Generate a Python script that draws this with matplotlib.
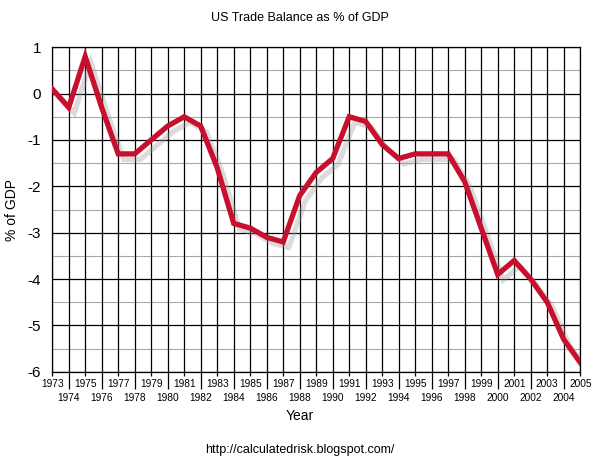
import numpy as np
import matplotlib
matplotlib.use('Agg')
import matplotlib.pyplot as plt
import matplotlib.patheffects as pe
from matplotlib.ticker import FixedLocator, FixedFormatter

plt.rcParams['font.family'] = ['Liberation Sans', 'DejaVu Sans']
plt.rcParams['axes.unicode_minus'] = False

years = list(range(1973, 2006))
balance = [0.1, -0.3, 0.8, -0.3, -1.3, -1.3, -1.0, -0.7, -0.5, -0.7,
           -1.6, -2.8, -2.9, -3.1, -3.2, -2.2, -1.7, -1.4, -0.5, -0.6,
           -1.1, -1.4, -1.3, -1.3, -1.3, -1.9, -2.9, -3.9, -3.6, -4.0,
           -4.5, -5.3, -5.8]
y_ticks = [1, 0, -1, -2, -3, -4, -5, -6]

fig = plt.figure(figsize=(6, 4.63), dpi=100)
ax = fig.add_axes([0.087, 0.197, 0.88, 0.701])

# grid: gray half steps, black integers and years
for v in np.arange(-5.5, 1, 1.0):
    ax.axhline(v, color='#aaaaaa', lw=0.8, zorder=1)
for v in y_ticks:
    ax.axhline(v, color='black', lw=0.9, zorder=1)
for yr in years:
    ax.axvline(yr, color='black', lw=0.9, zorder=1)

ax.plot(years, balance, color='#c8102e', lw=3.8, solid_joinstyle='miter', zorder=3,
        path_effects=[pe.SimpleLineShadow(offset=(4, -4), shadow_color='#999999', alpha=0.35),
                      pe.Normal()])

ax.set_xlim(1973, 2005)
ax.set_ylim(-6, 1)
ax.set_yticks(y_ticks)
ax.tick_params(axis='y', labelsize=11, length=0, pad=8)

odd = [y for y in years if y % 2 == 1]
even = [y for y in years if y % 2 == 0]
ax.xaxis.set_major_locator(FixedLocator(odd))
ax.xaxis.set_major_formatter(FixedFormatter([str(y) for y in odd]))
ax.xaxis.set_minor_locator(FixedLocator(even))
ax.xaxis.set_minor_formatter(FixedFormatter([str(y) for y in even]))
ax.tick_params(axis='x', which='major', labelsize=7.3, length=3, width=0.9, pad=2)
ax.tick_params(axis='x', which='minor', labelsize=7.3, length=12, width=0.9, pad=3)

for s in ax.spines.values():
    s.set_color('black')
    s.set_linewidth(0.9)

ax.set_ylabel('% of GDP', fontsize=10, labelpad=6)
fig.text(0.5, 0.092, 'Year', ha='center', fontsize=10)
fig.text(0.5, 0.955, 'US Trade Balance as % of GDP', ha='center', fontsize=9)
fig.text(0.5, 0.022, 'http://calculatedrisk.blogspot.com/', ha='center', fontsize=9)

fig.savefig('out.png', dpi=100)
